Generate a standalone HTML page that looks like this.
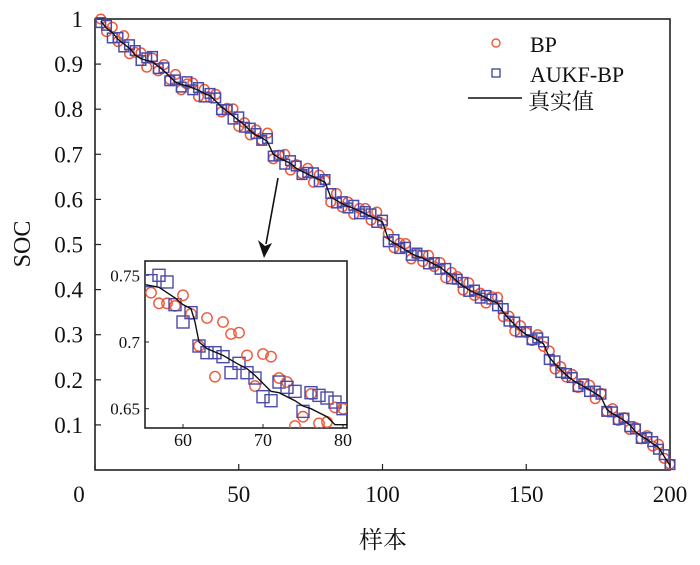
<!DOCTYPE html>
<html><head><meta charset="utf-8"><style>
body{margin:0;background:#fff}
svg text{font-family:"Liberation Serif","Noto Serif CJK SC",serif;fill:#111}
</style></head><body>
<svg id="chart" width="700" height="560" viewBox="0 0 700 560" xmlns="http://www.w3.org/2000/svg">
<g id="main"></g>
<g id="inset"></g>
<g id="legend">
 <circle cx="496" cy="43" r="4" fill="none" stroke="#f0583a" stroke-width="1.4"/>
 <text x="530" y="52" font-size="22">BP</text>
 <rect x="492" y="69" width="8" height="8" fill="none" stroke="#4a4aa8" stroke-width="1.4"/>
 <text x="530" y="82" font-size="22">AUKF-BP</text>
 <line x1="468" y1="98" x2="522" y2="98" stroke="#111" stroke-width="1.6"/>
 <text x="528" y="109" font-size="22">真实值</text>
</g>
<line x1="278" y1="178" x2="266" y2="244" stroke="#111" stroke-width="1.6"/>
<polygon points="258,240 264,258 272,243 265,246" fill="#111"/>
<text x="30" y="244" font-size="24" text-anchor="middle" transform="rotate(-90 30 244)" font-family="Liberation Sans, sans-serif">SOC</text>
<text x="383" y="548" font-size="24" text-anchor="middle">样本</text>
</svg>
<script>
const samples=[];for(let i=2;i<=200;i+=2)samples.push(i);
const trueSoc=[0.995,0.98,0.97,0.955,0.945,0.935,0.92,0.912,0.908,0.905,0.895,0.885,0.872,0.86,0.855,0.852,0.847,0.842,0.835,0.83,0.818,0.805,0.795,0.785,0.775,0.765,0.752,0.742,0.737,0.728,0.70,0.692,0.686,0.68,0.669,0.662,0.656,0.65,0.644,0.638,0.605,0.598,0.59,0.585,0.58,0.574,0.568,0.562,0.556,0.55,0.512,0.503,0.496,0.488,0.48,0.474,0.47,0.463,0.456,0.45,0.44,0.43,0.418,0.408,0.40,0.393,0.388,0.382,0.375,0.37,0.35,0.335,0.322,0.31,0.30,0.295,0.288,0.28,0.25,0.235,0.222,0.21,0.2,0.192,0.185,0.178,0.17,0.162,0.135,0.125,0.118,0.11,0.1,0.085,0.075,0.068,0.058,0.05,0.03,0.01];
const bpDev=[0.005,-0.008,0.012,-0.005,0.018,-0.012,0.006,0.013,-0.015,0.008,-0.01,0.014,-0.006,0.017,-0.012,0.004,0.011,-0.014,0.009,-0.004,0.015,-0.011,0.007,0.016,-0.013,0.005,-0.009,0.012,-0.006,0.019,-0.01,0.006,0.014,-0.015,0.008,-0.005,0.013,-0.012,0.01,0.004,-0.011,0.015,-0.007,0.009,-0.013,0.006,0.012,-0.008,0.016,-0.004,0.012,-0.01,0.007,0.014,-0.012,0.005,-0.008,0.013,-0.005,0.01,-0.014,0.008,0.011,-0.009,0.015,-0.006,0.004,-0.012,0.009,0.013,-0.01,0.006,-0.014,0.01,0.005,-0.008,0.012,-0.006,0.014,-0.011,0.007,-0.004,0.012,-0.009,0.006,0.01,-0.012,0.008,-0.005,0.011,-0.008,0.006,-0.01,0.009,-0.006,0.008,-0.005,0.007,-0.004,0.003];
const aukfDev=[-0.003,0.006,-0.012,0.004,-0.007,0.008,0.01,-0.004,0.006,0.012,-0.005,0.007,-0.009,0.005,-0.006,0.009,-0.004,0.006,-0.008,0.005,0.007,-0.006,0.004,-0.007,0.008,-0.005,0.006,0.004,-0.006,0.007,-0.004,0.005,-0.008,0.006,0.005,-0.007,0.004,0.009,-0.005,0.006,0.008,-0.006,0.005,-0.004,0.007,-0.006,0.005,0.006,-0.007,0.004,-0.006,0.008,-0.005,0.006,-0.004,0.007,0.005,-0.006,0.004,-0.005,0.007,-0.006,0.005,0.008,-0.004,0.006,-0.007,0.005,0.004,-0.006,0.008,-0.005,0.006,-0.004,0.007,-0.006,0.005,0.004,-0.005,0.007,-0.006,0.004,0.005,-0.007,0.006,-0.004,0.005,0.006,-0.005,0.004,-0.006,0.005,-0.004,0.006,-0.005,0.004,0.005,-0.004,0.004,0.002];
const xTicks=[0,50,100,150,200];
const yTicks=[0.1,0.2,0.3,0.4,0.5,0.6,0.7,0.8,0.9,1];
const yTickLabels=["0.1","0.2","0.3","0.4","0.5","0.6","0.7","0.8","0.9","1"];
// inset data
const inSamples=[56,57,58,59,60,61,62,63,64,65,66,67,68,69,70,71,72,73,74,75,76,77,78,79,80];
const inBp=[0.737,0.729,0.729,0.727,0.735,0.721,0.697,0.718,0.674,0.715,0.706,0.707,0.690,0.667,0.691,0.689,0.673,0.670,0.637,0.644,0.661,0.639,0.640,0.651,0.650];
const inAukf=[0.746,0.750,0.745,0.728,0.715,0.722,0.697,0.692,0.692,0.689,0.677,0.684,0.677,0.673,0.659,0.656,0.670,0.666,0.663,0.648,0.662,0.660,0.658,0.655,0.650];
const inTrueX=[55.3,57,59,60,61,61.5,62,63,65,67,68,69,70,71,72,74,75,76,77,78,79,80.6];
const inTrueY=[0.743,0.741,0.733,0.728,0.725,0.715,0.700,0.695,0.690,0.683,0.680,0.675,0.669,0.663,0.662,0.656,0.652,0.650,0.647,0.644,0.638,0.638];
const inXTicks=[60,70,80];
const inYTicks=[0.65,0.7,0.75];
const inYTickLabels=["0.65","0.7","0.75"];

const NS="http://www.w3.org/2000/svg";
function mk(parent,tag,attrs){const e=document.createElementNS(NS,tag);for(const k in attrs)e.setAttribute(k,attrs[k]);parent.appendChild(e);return e;}
const C_BP="#f0583a",C_AU="#4a4aa8";
// main
const M=document.getElementById('main');
const L=95,R=670,T=19,B=470;
const mx=v=>L+(v/200)*(R-L), my=v=>B-v*(B-T);
let e=mk(M,'rect',{x:L,y:T,width:R-L,height:B-T,fill:'none',stroke:'#222','stroke-width':1.6});


xTicks.forEach(t=>{
 let l=mk(M,'line',{x1:mx(t),y1:B,x2:mx(t),y2:B-6,stroke:'#222','stroke-width':1.2});
 
 
 let tx=mk(M,'text',{x:mx(t)-(t===0?16:0),y:B+32,'font-size':23,'text-anchor':'middle'});tx.textContent=t;
 
 
});
yTicks.forEach((t,i)=>{
 let l=mk(M,'line',{x1:L,y1:my(t),x2:L+6,y2:my(t),stroke:'#222','stroke-width':1.2});
 
 
 let tx=mk(M,'text',{x:L-12,y:my(t)+8,'font-size':23,'text-anchor':'end'});tx.textContent=yTickLabels[i];
 
 
});
samples.forEach((s,i)=>{
 let c=mk(M,'circle',{cx:mx(s),cy:my(trueSoc[i]+bpDev[i]),r:4.8,fill:'none',stroke:C_BP,'stroke-width':1.5});
 
 
});
samples.forEach((s,i)=>{
 let r=mk(M,'rect',{x:mx(s)-4.8,y:my(trueSoc[i]+aukfDev[i])-4.8,width:9.6,height:9.6,fill:'none',stroke:C_AU,'stroke-width':1.5});
 
 
});
let p=mk(M,'polyline',{points:samples.map((s,i)=>mx(s)+','+my(trueSoc[i])).join(' '),fill:'none',stroke:'#111','stroke-width':1.4});


// inset
const I=document.getElementById('inset');
const iL=145,iR=347,iT=261,iB=428;
const ix=v=>183+(v-60)*8, iy=v=>342-(v-0.7)*(66.7/0.05);
let bg=mk(I,'rect',{x:iL,y:iT,width:iR-iL,height:iB-iT,fill:'#fff',stroke:'#222','stroke-width':1.6});


inXTicks.forEach(t=>{
 let l=mk(I,'line',{x1:ix(t),y1:iB,x2:ix(t),y2:iB-4,stroke:'#222'});
 
 
 let tx=mk(I,'text',{x:ix(t),y:iB+18,'font-size':18,'text-anchor':'middle'});tx.textContent=t;
 
 
});
inYTicks.forEach((t,i)=>{
 let l=mk(I,'line',{x1:iL,y1:iy(t),x2:iL+4,y2:iy(t),stroke:'#222'});
 
 
 let tx=mk(I,'text',{x:iL-5,y:iy(t)+6,'font-size':17,'text-anchor':'end'});tx.textContent=inYTickLabels[i];
 
 
});
const clip=mk(I,'clipPath',{id:'ic'});mk(clip,'rect',{x:iL,y:iT,width:iR-iL,height:iB-iT});
const ig=mk(I,'g',{'clip-path':'url(#ic)'});
inSamples.forEach((s,i)=>{
 let c=mk(ig,'circle',{cx:ix(s),cy:iy(inBp[i]),r:5.2,fill:'none',stroke:C_BP,'stroke-width':1.4});
 
 
 let r=mk(ig,'rect',{x:ix(s)-6,y:iy(inAukf[i])-6,width:12,height:12,fill:'none',stroke:C_AU,'stroke-width':1.4});
 
 
});
let ip=mk(ig,'polyline',{points:inTrueX.map((s,i)=>ix(s)+','+iy(inTrueY[i])).join(' '),fill:'none',stroke:'#111','stroke-width':1.4});


</script>
</body></html>
